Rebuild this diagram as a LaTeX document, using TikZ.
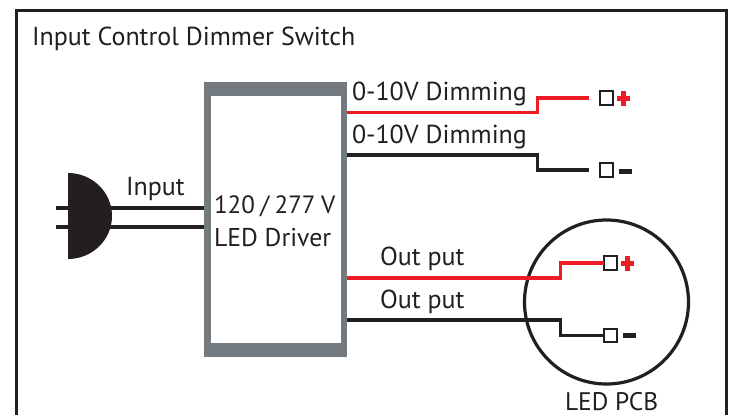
\documentclass[tikz,border=0pt]{standalone}
\usepackage{fontspec}
\setmainfont{PT Sans}
\definecolor{ink}{HTML}{231F20}
\definecolor{wred}{HTML}{ED1C24}
\definecolor{drvgrey}{HTML}{737A80}
\tikzset{
  lbl/.style={anchor=base west,inner sep=0pt,outer sep=0pt,text=ink,font=\fontsize{26}{26}\selectfont},
  wire/.style={line width=3.2pt,ink,miter limit=10},
  redwire/.style={wire,wred},
  term/.style={draw=ink,line width=2pt,fill=white,minimum width=13pt,minimum height=13.5pt,inner sep=0pt,outer sep=0pt},
  bar/.style={fill=#1,inner sep=0pt,outer sep=0pt},
}
\begin{document}
\begin{tikzpicture}[x=1pt,y=-1pt]
\useasboundingbox (0,0) rectangle (731,415);
\fill[white] (0,0) rectangle (731,415);
% frame
\coordinate (fa) at (16,415);
\coordinate (fb) at (16,10.5);
\coordinate (fc) at (726,10.5);
\coordinate (fd) at (726,415);
\draw[ink,line width=3pt,miter limit=10] (fa) -- (fb) -- (fc) -- (fd);
\node[lbl] (title) at (32,45) {Input Control Dimmer Switch};
% circle
\node[circle,draw=ink,line width=3.2pt,minimum size=164pt,inner sep=0pt,outer sep=0pt] (pcb) at (606.5,302) {};
\node[lbl,font=\fontsize{25.4}{26}\selectfont] (pcbl) at (565,410) {LED PCB};
% plug
\coordinate (pl1) at (56,208);
\coordinate (pl2) at (56,227);
\node[bar=drvgrey,minimum width=143pt,minimum height=275pt] (drv) at (275.5,219.5) {};
\node[bar=white,minimum width=130pt,minimum height=247pt] (drvin) at (276,219.5) {};
\draw[wire] (pl1) -- (pl1 -| drv.west);
\draw[wire] (pl2) -- (pl2 -| drv.west);
\fill[ink] (68,259) arc[start angle=90,end angle=-90,x radius=44,y radius=43] -- cycle;
\node[lbl] (inp) at (126,195) {Input};
\node[lbl,font=\fontsize{25}{26}\selectfont] (d1) at (214,213) {\spaceskip 5.5pt\relax 120 / 277 V};
\node[lbl,font=\fontsize{25.7}{26}\selectfont] (d2) at (214,246) {LED Driver};
% terminals
\node[term] (t1) at (606,98) {};
\node[term] (t2) at (606,170) {};
\node[term] (t3) at (610,263) {};
\node[term] (t4) at (610,335.5) {};
% signs
\node[bar=wred,minimum width=13pt,minimum height=5pt] (p1h) at (623.5,98) {};
\node[bar=wred,minimum width=5pt,minimum height=15pt] (p1v) at (623.5,98) {};
\node[bar=wred,minimum width=13pt,minimum height=5pt] (p2h) at (627.5,263) {};
\node[bar=wred,minimum width=5pt,minimum height=15pt] (p2v) at (627.5,263) {};
\node[bar=ink,minimum width=13pt,minimum height=5pt] (m1) at (625.5,171) {};
\node[bar=ink,minimum width=13pt,minimum height=5pt] (m2) at (629.5,335.5) {};
% free wire ends
\coordinate (e1) at (589,98);
\coordinate (e2) at (589,170);
% wires
\draw[redwire] (drv.east |- 0,112.5) -- (537.5,112.5) -- (537.5,98) -- (e1);
\draw[wire] (drv.east |- 0,155) -- (537.5,155) -- (537.5,170) -- (e2);
\draw[redwire] (drv.east |- 0,278) -- (560.5,278) -- (560.5,263) -- (t3.west);
\draw[wire] (drv.east |- 0,320) -- (560.5,320) -- (560.5,335.5) -- (t4.west);
\node[lbl] (a1) at (352,100) {0-10V Dimming};
\node[lbl] (a2) at (352,143) {0-10V Dimming};
\node[lbl] (o1) at (380,265) {Out put};
\node[lbl] (o2) at (380,308) {Out put};
\end{tikzpicture}
\end{document}
